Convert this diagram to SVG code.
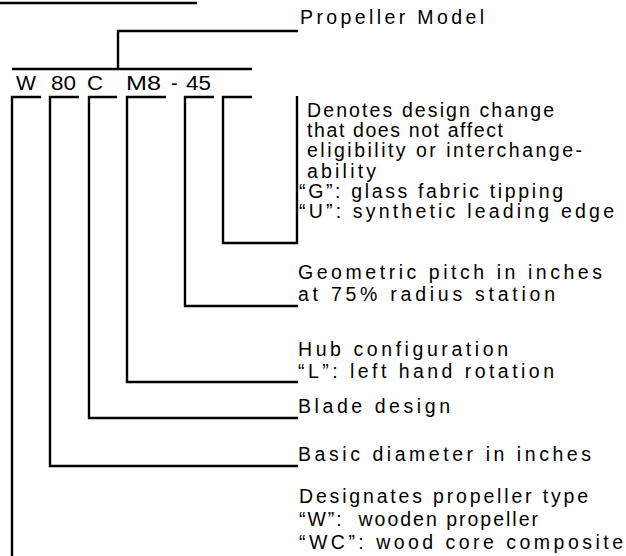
<svg xmlns="http://www.w3.org/2000/svg" width="626" height="556" viewBox="0 0 626 556">
<style>
.t{font-family:"Liberation Sans",Arial,sans-serif;font-size:19.5px;fill:#000}
.c{font-family:"Liberation Sans",Arial,sans-serif;font-size:20px;fill:#000}
.l{fill:none;stroke:#000;stroke-width:2.4;stroke-linecap:butt;stroke-linejoin:miter}
</style>
<rect width="626" height="556" fill="#fff"/>
<g id="connectors">
<line class="l" x1="0" y1="3" x2="197" y2="3"/>
<polyline class="l" points="118,69 118,31 298,31"/>
<line class="l" x1="12" y1="69" x2="252" y2="69"/>
<polyline class="l" points="41,97 12,97 12,556"/>
<polyline class="l" points="79,97 50,97 50,466 298,466"/>
<polyline class="l" points="117,97 89,97 89,418 298,418"/>
<polyline class="l" points="166,97 127,97 127,382 298,382"/>
<polyline class="l" points="214,97 185,97 185,306 298,306"/>
<polyline class="l" points="252,97 223,97 223,243 297,243 297,96"/>
</g>
<g id="code">
<text class="c" x="16" y="90" textLength="20" lengthAdjust="spacingAndGlyphs">W</text>
<text class="c" x="51" y="90" textLength="25" lengthAdjust="spacingAndGlyphs">80</text>
<text class="c" x="87" y="90" textLength="16" lengthAdjust="spacingAndGlyphs">C</text>
<text class="c" x="126" y="90" textLength="35" lengthAdjust="spacingAndGlyphs">M8</text>
<text class="c" x="171" y="90">-</text>
<text class="c" x="186" y="90" textLength="25" lengthAdjust="spacingAndGlyphs">45</text>
</g>
<g id="propeller-model"><text class="t" x="300" y="24" textLength="184" lengthAdjust="spacing">Propeller Model</text></g>
<g id="design-change">
<text class="t" x="307" y="117" textLength="247" lengthAdjust="spacing">Denotes design change</text>
<text class="t" x="307" y="137" textLength="196" lengthAdjust="spacing">that does not affect</text>
<text class="t" x="307" y="157" textLength="275" lengthAdjust="spacing">eligibility or interchange-</text>
<text class="t" x="307" y="178" textLength="69" lengthAdjust="spacing">ability</text>
<text class="t" x="299" y="198" textLength="264" lengthAdjust="spacing">“G”: glass fabric tipping</text>
<text class="t" x="299" y="218" textLength="315" lengthAdjust="spacing">“U”: synthetic leading edge</text>
</g>
<g id="pitch">
<text class="t" x="298" y="279" textLength="304" lengthAdjust="spacing">Geometric pitch in inches</text>
<text class="t" x="298" y="301" textLength="257" lengthAdjust="spacing">at 75% radius station</text>
</g>
<g id="hub">
<text class="t" x="298" y="356" textLength="210" lengthAdjust="spacing">Hub configuration</text>
<text class="t" x="298" y="378" textLength="256" lengthAdjust="spacing">“L”: left hand rotation</text>
</g>
<g id="blade"><text class="t" x="298" y="413" textLength="152" lengthAdjust="spacing">Blade design</text></g>
<g id="diameter"><text class="t" x="298" y="461" textLength="293" lengthAdjust="spacing">Basic diameter in inches</text></g>
<g id="type">
<text class="t" x="299" y="503" textLength="289" lengthAdjust="spacing">Designates propeller type</text>
<text class="t" x="299" y="526" textLength="239" lengthAdjust="spacing" xml:space="preserve">“W”:  wooden propeller</text>
<text class="t" x="299" y="549" textLength="324" lengthAdjust="spacing">“WC”: wood core composite</text>
</g>
</svg>
